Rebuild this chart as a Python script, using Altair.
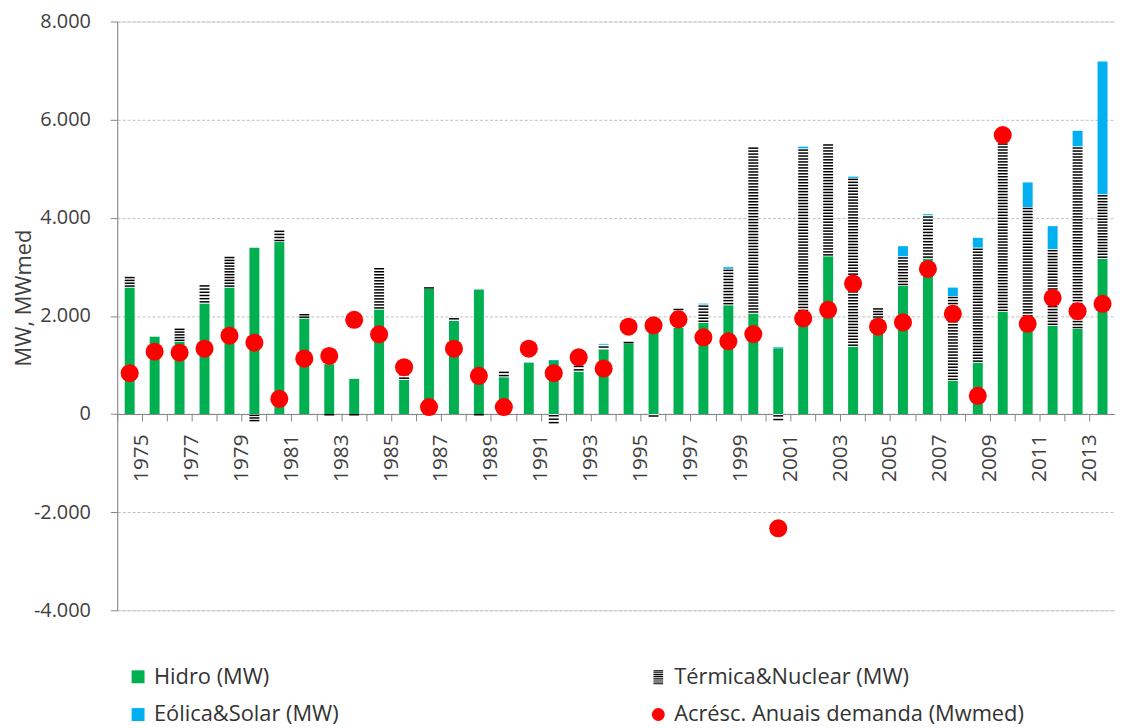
import altair as alt
import pandas as pd

# ---------------- data ----------------
years = list(range(1975, 2015))

hidro = [2580, 1576, 1474, 2254, 2579, 3391, 3505, 1949, 1015, 717,
         2132, 696, 2550, 1901, 2538, 751, 1048, 1082, 865, 1320,
         1442, 1712, 1759, 1860, 2219, 2050, 1340, 1900, 3214, 1373,
         1950, 2611, 3167, 676, 1048, 2083, 1850, 1799, 1732, 3167]

termica = [230, 0, 280, 390, 640, -160, 250, 100, -30, -30,
           860, 140, 40, 80, -30, 130, 0, -210, 140, 90,
           30, -80, 400, 370, 740, 3400, -150, 3510, 2300, 3440,
           220, 600, 880, 1730, 2340, 3450, 2370, 1560, 3720, 1310]

eolica = [0, 0, 0, 0, 0, 0, 0, 0, 0, 0,
          0, 0, 0, 0, 0, 0, 0, 20, 0, 20,
          0, 0, 0, 20, 35, 0, 20, 40, 0, 26,
          0, 210, 26, 171, 203, 30, 500, 470, 320, 2710]

demanda = [832, 1271, 1251, 1332, 1596, 1454, 311, 1129, 1184, 1921,
           1624, 954, 142, 1332, 778, 142, 1332, 832, 1157, 926,
           1779, 1807, 1929, 1563, 1482, 1630, -2330, 1949, 2124, 2660,
           1779, 1868, 2957, 2043, 372, 5685, 1840, 2368, 2097, 2246]

S_H = "Hidro (MW)"
S_T = "Térmica&Nuclear (MW)"
S_E = "Eólica&Solar (MW)"
S_D = "Acrésc. Anuais demanda (Mwmed)"
series_names = [S_H, S_T, S_E, S_D]
series_colors = ["#00B050", "#000000", "#00B0F0", "#FF0000"]

y_ticks = [-4000, -2000, 0, 2000, 4000, 6000, 8000]

# ---------------- layout constants ----------------
Y_MIN, Y_MAX = -4000, 8000
PLOT_W, PLOT_H = 1005, 593
FONT = "Open Sans"
STRIPE_PX = 3.0
BAR_W = 10

# ---------------- derived tables ----------------
bar_rows, therm_rows, stripe_rows = [], [], []
stripe_step = STRIPE_PX * (Y_MAX - Y_MIN) / PLOT_H
for yr, h, t, e in zip(years, hidro, termica, eolica):
    bar_rows.append({"year": yr, "y0": 0, "y1": h, "series": S_H})
    if t != 0:
        lo, hi = (h, h + t) if t > 0 else (t, 0)
        therm_rows.append({"year": yr, "y0": lo, "y1": hi})
        n = max(1, round((hi - lo) / stripe_step))
        step = (hi - lo) / n
        for k in range(n):
            stripe_rows.append({"year": yr, "pos": hi - (k + 0.5) * step, "series": S_T})
    if e > 0:
        base = h + max(t, 0)
        bar_rows.append({"year": yr, "y0": base, "y1": base + e, "series": S_E})

bars_df = pd.DataFrame(bar_rows)
therm_df = pd.DataFrame(therm_rows)
stripe_df = pd.DataFrame(stripe_rows)
dots_df = pd.DataFrame({"year": years, "val": demanda, "series": S_D})

# striped legend symbol for thermal
stripe_path = " ".join(
    f"M-0.75,{-1 + k * 2 / 7:.3f}h1.5v0.16h-1.5z" for k in range(8)
)

x_scale = alt.Scale(type="band", paddingInner=0, paddingOuter=0)
y_scale = alt.Scale(domain=[Y_MIN, Y_MAX], nice=False, zero=False)
zero_offset = -(PLOT_H - PLOT_H * Y_MAX / (Y_MAX - Y_MIN))

x_axis = alt.Axis(
    title=None, bandPosition=0, labelAngle=270, labelOffset=PLOT_W / len(years) / 2,
    labelExpr="datum.value % 2 == 1 ? datum.label : ''",
    labelFont=FONT, labelFontSize=21, labelColor="#404040", labelPadding=13,
    labelOverlap=False, labelFlush=False,
    tickSize=7, tickColor="#868686", domainColor="#868686",
    offset=zero_offset, grid=False,
)
y_axis = alt.Axis(
    title="MW, MWmed", values=y_ticks,
    labelExpr="replace(replace(format(datum.value, ','), ',', '.'), '\u2212', '-')",
    labelFont=FONT, labelFontSize=20, labelColor="#404040", labelPadding=20,
    tickSize=7, tickColor="#868686", domainColor="#868686",
    grid=True, gridColor="#BFBFBF", gridDash=[3, 2], gridWidth=1,
    titleFont=FONT, titleFontSize=22, titleFontWeight="normal", titleColor="#404040",
    titleX=-94, titleY=278, titleBaseline="middle", titleAngle=270,
)

color_scale = alt.Scale(domain=series_names, range=series_colors)
shape_scale = alt.Scale(domain=series_names, range=["square", stripe_path, "square", "circle"])
legend = alt.Legend(
    title=None, orient="none", legendX=10, legendY=649, columns=2,
    direction="horizontal",
    columnPadding=310, rowPadding=16, labelFont=FONT, labelFontSize=22,
    labelColor="#333333", symbolSize=169, symbolStrokeWidth=0, labelOffset=5,
    labelLimit=500,
)

X = alt.X("year:O", scale=x_scale, axis=x_axis)

bars = alt.Chart(bars_df).mark_bar(size=BAR_W).encode(
    x=X,
    y=alt.Y("y0:Q", scale=y_scale, axis=y_axis),
    y2="y1:Q",
    color=alt.Color("series:N", scale=color_scale, legend=legend),
)

therm_bg = alt.Chart(therm_df).mark_bar(size=BAR_W, color="white").encode(
    x=X,
    y=alt.Y("y0:Q", scale=y_scale, axis=y_axis),
    y2="y1:Q",
)

stripes = alt.Chart(stripe_df).mark_tick(size=BAR_W, thickness=1.5, opacity=1).encode(
    x=X,
    y=alt.Y("pos:Q", scale=y_scale, axis=y_axis),
    color=alt.Color("series:N", scale=color_scale, legend=legend),
)

dots = alt.Chart(dots_df).mark_point(filled=True, size=330, opacity=1).encode(
    x=X,
    y=alt.Y("val:Q", scale=y_scale, axis=y_axis),
    color=alt.Color("series:N", scale=color_scale, legend=legend),
    shape=alt.Shape("series:N", scale=shape_scale, legend=legend),
)

chart = alt.layer(bars, therm_bg, stripes, dots).properties(
    width=PLOT_W, height=PLOT_H,
    autosize=alt.AutoSizeParams(type="none"),
    padding={"left": 110, "top": 11, "right": 0, "bottom": 124},
).configure_view(stroke=None).configure(background="white")

chart.save("out.html", embed_options={"renderer": "svg", "actions": False})
